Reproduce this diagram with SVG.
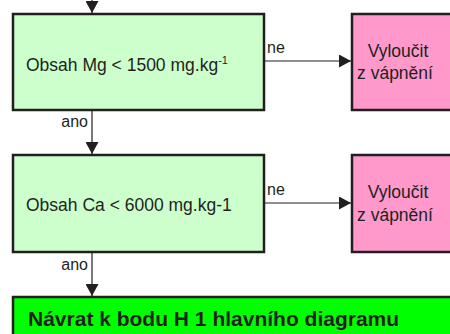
<svg xmlns="http://www.w3.org/2000/svg" width="450" height="334" viewBox="0 0 450 334">
  <style>
    .box { stroke: #231f20; stroke-width: 2.5; }
    .check { fill: #ccffcc; }
    .exclude { fill: #ff99cc; }
    .exit { fill: #00ff00; }
    .t { font-family: "Liberation Sans", Arial, sans-serif; font-size: 17.5px; fill: #231f20; }
    .lbl { font-family: "Liberation Sans", Arial, sans-serif; font-size: 16px; fill: #231f20; }
    .bold { font-family: "Liberation Sans", Arial, sans-serif; font-size: 21px; font-weight: bold; fill: #231f20; }
    .line { stroke: #231f20; stroke-width: 1.2; fill: none; }
  </style>
  <defs>
    <marker id="arrow" viewBox="0 0 12 13" refX="12" refY="6.5" markerWidth="12" markerHeight="13" markerUnits="userSpaceOnUse" orient="auto">
      <path d="M0,0 L12,6.5 L0,13 Z" fill="#231f20"/>
    </marker>
  </defs>

  <!-- decision: magnesium -->
  <g id="mg-check">
    <rect class="box check" x="13" y="14" width="251" height="96"/>
    <text class="t" x="26" y="71">Obsah Mg &lt; 1500 mg.kg<tspan dy="-7" font-size="11px">-1</tspan></text>
  </g>

  <g id="mg-exclude">
    <rect class="box exclude" x="352" y="14" width="110" height="96"/>
    <text class="t" x="398" y="57" text-anchor="middle">Vyloučit</text>
    <text class="t" x="395" y="79" text-anchor="middle">z vápnění</text>
  </g>

  <!-- decision: calcium -->
  <g id="ca-check">
    <rect class="box check" x="13" y="155" width="251" height="97"/>
    <text class="t" x="26" y="211">Obsah Ca &lt; 6000 mg.kg-1</text>
  </g>

  <g id="ca-exclude">
    <rect class="box exclude" x="352" y="155" width="110" height="97"/>
    <text class="t" x="398" y="198" text-anchor="middle">Vyloučit</text>
    <text class="t" x="395" y="221" text-anchor="middle">z vápnění</text>
  </g>

  <!-- return to main diagram -->
  <g id="return">
    <rect class="box exit" x="13" y="297" width="450" height="50"/>
    <text class="bold" x="28" y="326">Návrat k bodu H 1 hlavního diagramu</text>
  </g>

  <g id="connectors">
    <line class="line" x1="92" y1="-2" x2="92" y2="13" marker-end="url(#arrow)"/>
    <line class="line" x1="92" y1="111" x2="92" y2="154" marker-end="url(#arrow)"/>
    <line class="line" x1="92" y1="253" x2="92" y2="296" marker-end="url(#arrow)"/>
    <line class="line" x1="265" y1="61" x2="351" y2="61" marker-end="url(#arrow)"/>
    <line class="line" x1="265" y1="203" x2="351" y2="203" marker-end="url(#arrow)"/>
    <text class="lbl" x="88" y="127" text-anchor="end">ano</text>
    <text class="lbl" x="88" y="270" text-anchor="end">ano</text>
    <text class="lbl" x="267" y="53">ne</text>
    <text class="lbl" x="267" y="195">ne</text>
  </g>
</svg>
